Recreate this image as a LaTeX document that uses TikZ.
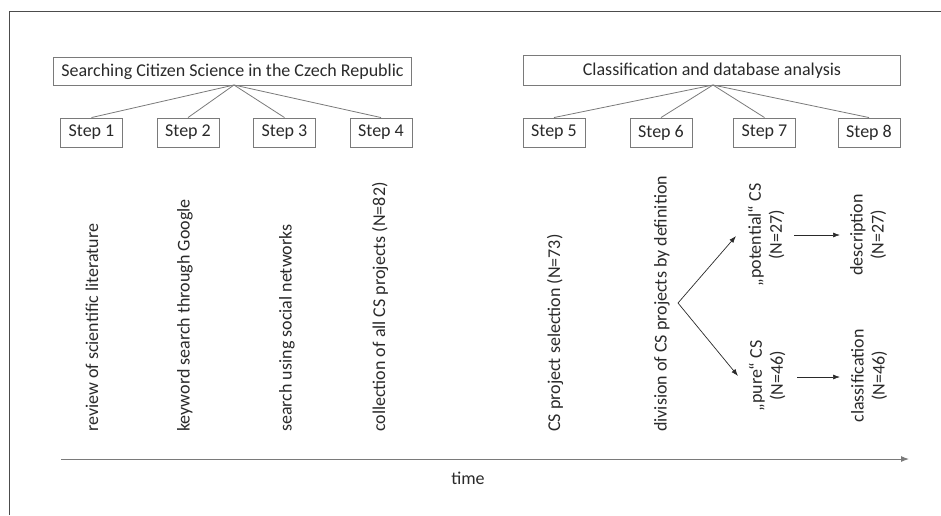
\documentclass[tikz,border=0pt]{standalone}
\usepackage{fontspec}
\setmainfont{Carlito}
\usetikzlibrary{arrows.meta}
\definecolor{txt}{HTML}{2A2A2A}
\definecolor{ln}{HTML}{7A7A7A}
\begin{document}
\begin{tikzpicture}[x=1pt,y=-1pt,
  every node/.style={text=txt, font=\fontsize{18}{21}\selectfont},
  titlebox/.style={draw=ln, line width=0.9pt, inner sep=0pt, anchor=north west},
  stepbox/.style={draw=ln, line width=0.9pt, inner sep=0pt, minimum width=62pt, minimum height=29pt},
  vtext/.style={rotate=90, anchor=west, inner sep=0pt},
  vpair/.style={rotate=90, align=center, inner sep=0pt},
  fan/.style={draw=ln, line width=0.8pt},
  arr/.style={draw=txt, line width=0.7pt, -{Latex[length=7pt,width=5pt]}}]
\useasboundingbox (0,0) rectangle (941,515);
% frame
\coordinate (fbl) at (9,515);
\coordinate (ftl) at (9,11);
\coordinate (ftr) at (941,11);
\draw[draw=black!70, line width=1pt] (fbl) -- (ftl) -- (ftr);
% title boxes
\node[titlebox, minimum width=358pt, minimum height=28pt] (t1) at (53,57) {Searching Citizen Science in the Czech Republic};
\node[titlebox, minimum width=377pt, minimum height=30pt] (t2) at (523,55) {Classification and database analysis};
% step boxes
\node[stepbox] (s1) at (91.5,132.5) {Step 1};
\node[stepbox] (s2) at (188,132.5) {Step 2};
\node[stepbox] (s3) at (284.5,132.5) {Step 3};
\node[stepbox] (s4) at (381,132.5) {Step 4};
\node[stepbox] (s5) at (554,132.5) {Step 5};
\node[stepbox] (s6) at (661,132.5) {Step 6};
\node[stepbox] (s7) at (764.5,132.5) {Step 7};
\node[stepbox] (s8) at (869,132.5) {Step 8};
\coordinate (f1) at (234,85);
\coordinate (f2) at (713,85);
\foreach \s in {s1,s2,s3,s4} \draw[fan] (f1) -- (\s.north);
\foreach \s in {s5,s6,s7,s8} \draw[fan] (f2) -- (\s.north);
% vertical texts
\node[vtext] (v1) at (92,432) {review of scientific literature};
\node[vtext] (v2) at (185,432) {keyword search through Google};
\node[vtext] (v3) at (287,432) {search using social networks};
\node[vtext] (v4) at (380,432) {collection of all CS projects (N=82)};
\node[vtext] (v5) at (555,432) {CS project selection (N=73)};
\node[vtext] (v6) at (662,432) {division of CS projects by definition};
\node[vpair] (pot) at (766,235) {„potential“ CS\\(N=27)};
\node[vpair] (des) at (868,235) {description\\(N=27)};
\node[vpair] (pur) at (767,376) {„pure“ CS\\(N=46)};
\node[vpair] (cla) at (869,376) {classification\\(N=46)};
\coordinate (apex) at (678,303);
\coordinate (tipu) at (736,236);
\coordinate (tipd) at (738,376);
\draw[arr] (apex) -- (tipu);
\draw[arr] (apex) -- (tipd);
\coordinate (pa1) at (794,235);
\coordinate (pa2) at (840,235);
\draw[arr] (pa1) -- (pa2);
\coordinate (pb1) at (797,377);
\coordinate (pb2) at (840,377);
\draw[arr] (pb1) -- (pb2);
% time axis
\coordinate (ta) at (61,459);
\coordinate (tb) at (909,459);
\draw[draw=ln, line width=1pt, -{Latex[length=8pt,width=6pt]}] (ta) -- (tb);
\node (time) at (468,478) {time};
\end{tikzpicture}
\end{document}
